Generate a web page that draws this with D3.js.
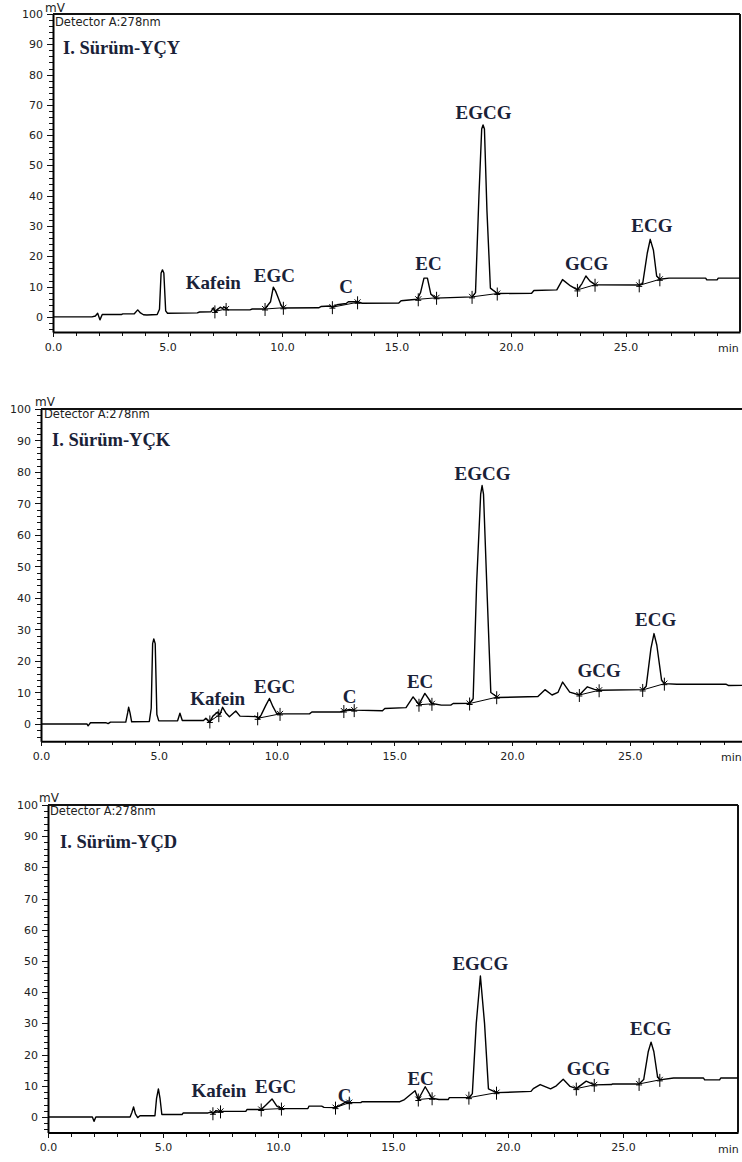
<!DOCTYPE html>
<html>
<head>
<meta charset="utf-8">
<script src="https://cdn.jsdelivr.net/npm/d3@7"></script>
<style>
body { margin: 0; background: #fff; }
svg { display: block; }
.tick text { font-family: "DejaVu Sans", sans-serif; font-size: 11px; fill: #222; }
.tick line { shape-rendering: crispEdges; stroke: #111; }
</style>
</head>
<body>
<div id="chart"></div>
<script>
/* HPLC chromatograms - three samples, detector A 278 nm */

const peakNames = ["Kafein", "EGC", "C", "EC", "EGCG", "GCG", "ECG"];
const titles = ["I. Sürüm-YÇY", "I. Sürüm-YÇK", "I. Sürüm-YÇD"];
const yTicks = [0, 10, 20, 30, 40, 50, 60, 70, 80, 90, 100];
const xTicks = [0, 5, 10, 15, 20, 25];

// panel 1 (YÇY) trace
const p1Time = [0, 1.7, 1.85, 1.95, 2.05, 2.15, 3.0, 3.05, 3.55, 3.7, 3.82, 3.95, 4.1, 4.55, 4.65, 4.72, 4.78, 4.84, 4.92, 5.0,
    6.3, 6.4, 6.9, 7.0, 7.1, 7.2, 7.3, 7.4, 7.5, 7.65, 8.6, 8.7, 9.25, 9.5, 9.62, 9.72, 9.8, 9.95, 10.05,
    11.6, 11.7, 12.1, 12.2, 12.4, 12.8, 12.9, 13.3, 13.5, 15.1, 15.2, 15.9, 16.05, 16.2, 16.35, 16.5, 16.7,
    18.3, 18.45, 18.6, 18.72, 18.78, 18.84, 18.95, 19.1, 19.4, 20.9, 21.0, 22.0, 22.25, 22.6, 22.9, 23.1, 23.27, 23.45, 23.67,
    25.6, 25.75, 25.95, 26.08, 26.22, 26.36, 26.5, 26.9, 28.5, 28.55, 29.0, 29.05, 30];
const p1Signal = [0, 0, 0.3, 1.2, -1.0, 0.8, 0.8, 1.0, 1.0, 2.3, 1.3, 0.7, 0.6, 0.8, 2.5, 14.5, 15.5, 14.5, 2.0, 1.2,
    1.3, 1.6, 1.7, 3.0, 1.5, 2.5, 3.2, 2.8, 3.2, 2.3, 2.3, 2.6, 2.6, 5.0, 9.8, 8.5, 7.0, 4.0, 2.9,
    3.0, 3.4, 3.6, 3.1, 4.0, 4.4, 5.0, 5.0, 4.5, 4.6, 5.3, 5.8, 8.0, 12.8, 12.8, 7.5, 6.2,
    6.6, 8.0, 40, 62, 63.4, 62, 35, 9.5, 7.7, 7.8, 8.7, 8.9, 12.3, 10.2, 8.9, 11, 13.5, 11.8, 10.6,
    10.5, 11, 21, 25.6, 22, 13.5, 12.4, 12.8, 12.8, 12.2, 12.2, 12.8, 12.8];
const p1StartT = [7.07, 9.26, 12.2, 15.95, 18.3, 22.9, 25.6];
const p1StartV = [1.8, 2.6, 3.2, 5.8, 6.6, 8.9, 10.4];
const p1EndT = [7.56, 10.06, 13.3, 16.75, 19.4, 23.67, 26.5];
const p1EndV = [2.6, 3.0, 4.8, 6.3, 7.7, 10.6, 12.4];
const p1LabelT = [7.0, 9.67, 12.8, 16.4, 18.8, 23.3, 26.15];
const p1LabelV = [9.2, 11.4, 7.9, 15.5, 65.3, 15.5, 28];

// panel 2 (YÇK) trace
const p2Time = [0, 1.95, 2.0, 2.1, 2.75, 2.85, 2.95, 3.6, 3.68, 3.72, 3.78, 3.85, 4.6, 4.68, 4.74, 4.79, 4.85, 4.92, 5.0,
    5.8, 5.9, 6.0, 6.9, 7.0, 7.15, 7.3, 7.5, 7.6, 7.71, 7.85, 8.0, 8.27, 8.45, 9.2, 9.25, 9.35, 9.55, 9.7, 9.85, 10.0, 10.15,
    11.4, 11.5, 12.7, 12.86, 13.1, 13.3, 14.5, 14.6, 15.5, 15.8, 16.05, 16.3, 16.6, 17.0, 17.4, 17.5, 18.2,
    18.35, 18.5, 18.67, 18.73, 18.79, 18.95, 19.1, 19.4, 21.1, 21.4, 21.7, 21.95, 22.15, 22.45, 22.86, 23.2, 23.5, 23.7,
    25.55, 25.7, 25.9, 26.03, 26.15, 26.35, 26.47, 27.0, 29.1, 29.2, 30];
const p2Signal = [0, 0, -0.6, 0.4, 0.4, 0.1, 0.6, 0.6, 3.5, 5.3, 3.5, 0.7, 0.8, 5, 25.5, 27, 25.5, 3, 1.0,
    1.0, 3.4, 1.1, 1.1, 1.8, 0.5, 2.5, 3.8, 3.0, 5.3, 3.5, 2.3, 4.1, 2.5, 2.3, 1.6, 2.9, 6, 8.1, 5.5, 3.4, 3.2,
    3.2, 3.8, 3.8, 4.2, 4.6, 4.4, 4.2, 4.9, 5.2, 8.6, 6.2, 9.7, 6.5, 6.0, 6.0, 6.5, 6.6,
    8, 45, 73, 75.7, 73, 40, 10, 8.4, 8.7, 10.9, 9.2, 10, 13.3, 10.1, 9.2, 11.8, 11.0, 10.7,
    10.9, 12, 24, 28.7, 25, 14, 12.8, 12.6, 12.6, 12.2, 12.3];
const p2StartT = [7.17, 9.2, 12.86, 16.05, 18.2, 22.86, 25.55];
const p2StartV = [0.8, 1.8, 4.1, 6.1, 6.5, 9.2, 10.8];
const p2EndT = [7.55, 10.15, 13.3, 16.6, 19.35, 23.7, 26.47];
const p2EndV = [2.8, 3.2, 4.4, 6.4, 8.5, 10.7, 12.8];
const p2LabelT = [7.5, 9.92, 13.1, 16.1, 18.75, 23.7, 26.1];
const p2LabelV = [6.0, 9.9, 6.6, 11.4, 77.5, 15, 31];

// panel 3 (YÇD) trace
const p3Time = [0, 1.93, 2.0, 2.08, 3.57, 3.65, 3.72, 3.8, 3.9, 4.0, 4.65, 4.72, 4.8, 4.87, 4.95,
    5.83, 5.88, 6.96, 7.1, 7.17, 7.3, 7.5, 8.6, 8.65, 9.27, 9.5, 9.74, 9.95, 10.15,
    11.3, 11.35, 11.9, 12.0, 12.5, 12.75, 12.9, 13.6, 13.65, 15.3, 15.5, 15.96, 16.1, 16.4, 16.7, 17.0, 17.4, 17.45, 18.3,
    18.45, 18.62, 18.8, 18.98, 19.15, 19.5, 21.0, 21.1, 21.4, 21.85, 22.1, 22.4, 22.7, 22.97, 23.4, 23.75, 24.5, 24.55, 25.7,
    25.9, 26.1, 26.22, 26.34, 26.5, 26.6, 27.2, 28.5, 28.55, 29.2, 29.25, 30];
const p3Signal = [0, 0, -1.4, 0, 0, 1.5, 3.2, 1.0, -0.2, 0.4, 0.4, 6, 9, 6, 0.8,
    0.8, 1.3, 1.3, 1.6, 1.0, 2.0, 1.8, 1.8, 2.4, 2.4, 4.0, 5.8, 3.5, 2.7,
    2.7, 3.5, 3.5, 3.1, 3.0, 4.0, 4.6, 4.6, 4.9, 4.9, 5.6, 8.4, 5.6, 9.7, 6.0, 5.6, 5.6, 6.2, 6.2,
    7.5, 30, 45.2, 30, 9, 7.8, 8.2, 9.1, 10.4, 9.0, 10, 12.1, 9.8, 9.1, 11.5, 10.3, 10.4, 10.6, 10.6,
    12, 21, 24, 21, 13, 11.9, 12.5, 12.5, 11.9, 11.9, 12.5, 12.5];
const p3StartT = [7.17, 9.27, 12.5, 16.1, 18.3, 22.97, 25.7];
const p3StartV = [1.2, 2.4, 3.0, 5.6, 6.2, 9.1, 10.6];
const p3EndT = [7.5, 10.15, 13.1, 16.7, 19.5, 23.75, 26.6];
const p3EndV = [1.8, 2.7, 4.6, 6.0, 7.8, 10.3, 11.9];
const p3LabelT = [7.43, 9.9, 12.9, 16.2, 18.8, 23.5, 26.2];
const p3LabelV = [6.4, 7.7, 4.8, 10.3, 47, 13.5, 26.2];

const width = 742, height = 1162;

// pixel frame of each panel (x for 0..30 min, y for bottom..100 mV)
const panels = [
    { x0: 53, x1: 740, yb: 332, yt: 14, ymin: -5, title: [63, 54], det: [55, 26], mv: [45, 12], minX: 718,
      time: p1Time, sig: p1Signal, st: p1StartT, sv: p1StartV, et: p1EndT, ev: p1EndV, lt: p1LabelT, lv: p1LabelV },
    { x0: 41, x1: 747.5, yb: 741.3, yt: 409, ymin: -5.5, title: [52, 446], det: [44, 418], mv: [35, 406], minX: 721,
      time: p2Time, sig: p2Signal, st: p2StartT, sv: p2StartV, et: p2EndT, ev: p2EndV, lt: p2LabelT, lv: p2LabelV },
    { x0: 48, x1: 738, yb: 1132.6, yt: 805, ymin: -5, title: [60, 848], det: [50, 815], mv: [39, 802], minX: 718,
      time: p3Time, sig: p3Signal, st: p3StartT, sv: p3StartV, et: p3EndT, ev: p3EndV, lt: p3LabelT, lv: p3LabelV }
];

let svg = d3.select("#chart")
    .append("svg")
    .attr("width", width)
    .attr("height", height)
    .attr("viewBox", [0, 0, width, height]);

panels.forEach((p, i) => {

    let x = d3.scaleLinear()
        .domain([0, 30])
        .range([p.x0, p.x1]);

    let y = d3.scaleLinear()
        .domain([p.ymin, 100])
        .range([p.yb, p.yt]);

    let g = svg.append("g").attr("class", "panel");

    // detector text sits under the top frame line
    g.append("text")
        .attr("x", p.det[0])
        .attr("y", p.det[1])
        .attr("font-family", "DejaVu Sans, sans-serif")
        .attr("font-size", 11.5)
        .attr("fill", "#222")
        .text("Detector A:278nm");

    g.append("text")
        .attr("x", p.mv[0])
        .attr("y", p.mv[1])
        .attr("font-family", "DejaVu Sans, sans-serif")
        .attr("font-size", 12)
        .attr("fill", "#222")
        .text("mV");

    // minor ticks
    let minorY = d3.range(-4, 100, 2).filter(v => v % 10 !== 0);
    g.append("g")
        .attr("transform", `translate(${p.x0},0)`)
        .call(d3.axisLeft(y).tickValues(minorY).tickSize(4).tickFormat(""))
        .call(a => a.select(".domain").remove());

    let minorX = d3.range(1, 30, 1).filter(v => v % 5 !== 0);
    g.append("g")
        .attr("transform", `translate(0,${p.yb})`)
        .call(d3.axisBottom(x).tickValues(minorX).tickSize(4).tickFormat(""))
        .call(a => a.select(".domain").remove());

    // major axes
    g.append("g")
        .attr("transform", `translate(${p.x0},0)`)
        .call(d3.axisLeft(y).tickValues(yTicks).tickSize(6).tickSizeOuter(0).tickPadding(4))
        .call(a => a.select(".domain").attr("stroke-width", 2));

    g.append("g")
        .attr("transform", `translate(0,${p.yb})`)
        .call(d3.axisBottom(x).tickValues(xTicks).tickSize(5).tickSizeOuter(0).tickPadding(6).tickFormat(d3.format(".1f")))
        .call(a => a.select(".domain").attr("stroke-width", 2));

    g.append("text")
        .attr("x", p.minX)
        .attr("y", p.yb + 20)
        .attr("font-family", "DejaVu Sans, sans-serif")
        .attr("font-size", 11)
        .attr("fill", "#222")
        .text("min");

    // frame: top and right
    g.append("line")
        .attr("x1", x(0)).attr("x2", x(30))
        .attr("y1", y(100)).attr("y2", y(100))
        .attr("stroke", "#111").attr("stroke-width", 2);

    g.append("line")
        .attr("x1", x(30)).attr("x2", x(30))
        .attr("y1", y(100)).attr("y2", y(p.ymin))
        .attr("stroke", "#111").attr("stroke-width", 2);

    // trace
    let pts = p.time.map((t, k) => [t, p.sig[k]]);
    g.append("path")
        .datum(pts)
        .attr("fill", "none")
        .attr("stroke", "#000")
        .attr("stroke-width", 1.4)
        .attr("stroke-linejoin", "round")
        .attr("d", d3.line().x(d => x(d[0])).y(d => y(d[1])));

    // integration baselines + start/end marks
    let peaks = peakNames.map((name, k) => ({
        name: name, st: p.st[k], sv: p.sv[k], et: p.et[k], ev: p.ev[k], lt: p.lt[k], lv: p.lv[k]
    }));

    g.selectAll(".base")
        .data(peaks)
        .join("line")
        .attr("class", "base")
        .attr("x1", d => x(d.st)).attr("y1", d => y(d.sv))
        .attr("x2", d => x(d.et)).attr("y2", d => y(d.ev))
        .attr("stroke", "#000").attr("stroke-width", 1);

    let marks = peaks.flatMap(d => [[d.st, d.sv], [d.et, d.ev]]);
    g.selectAll(".mark")
        .data(marks)
        .join("path")
        .attr("class", "mark")
        .attr("fill", "none")
        .attr("stroke", "#000")
        .attr("stroke-width", 1)
        .attr("d", d => {
            let mx = x(d[0]), my = y(d[1]);
            return `M${mx},${my - 6}L${mx},${my + 7}M${mx - 3},${my - 3}L${mx},${my}L${mx + 3},${my - 3}M${mx - 3},${my + 1}L${mx + 3},${my + 1}`;
        });

    // peak labels
    g.selectAll(".plabel")
        .data(peaks)
        .join("text")
        .attr("class", "plabel")
        .attr("x", d => x(d.lt))
        .attr("y", d => y(d.lv))
        .attr("text-anchor", "middle")
        .attr("font-family", "Liberation Serif, serif")
        .attr("font-weight", "bold")
        .attr("font-size", 19)
        .attr("fill", "#1a2238")
        .text(d => d.name);

    g.append("text")
        .attr("x", p.title[0])
        .attr("y", p.title[1])
        .attr("font-family", "Liberation Serif, serif")
        .attr("font-weight", "bold")
        .attr("font-size", 18.5)
        .attr("fill", "#1a2238")
        .text(titles[i]);
});
</script>
</body>
</html>
